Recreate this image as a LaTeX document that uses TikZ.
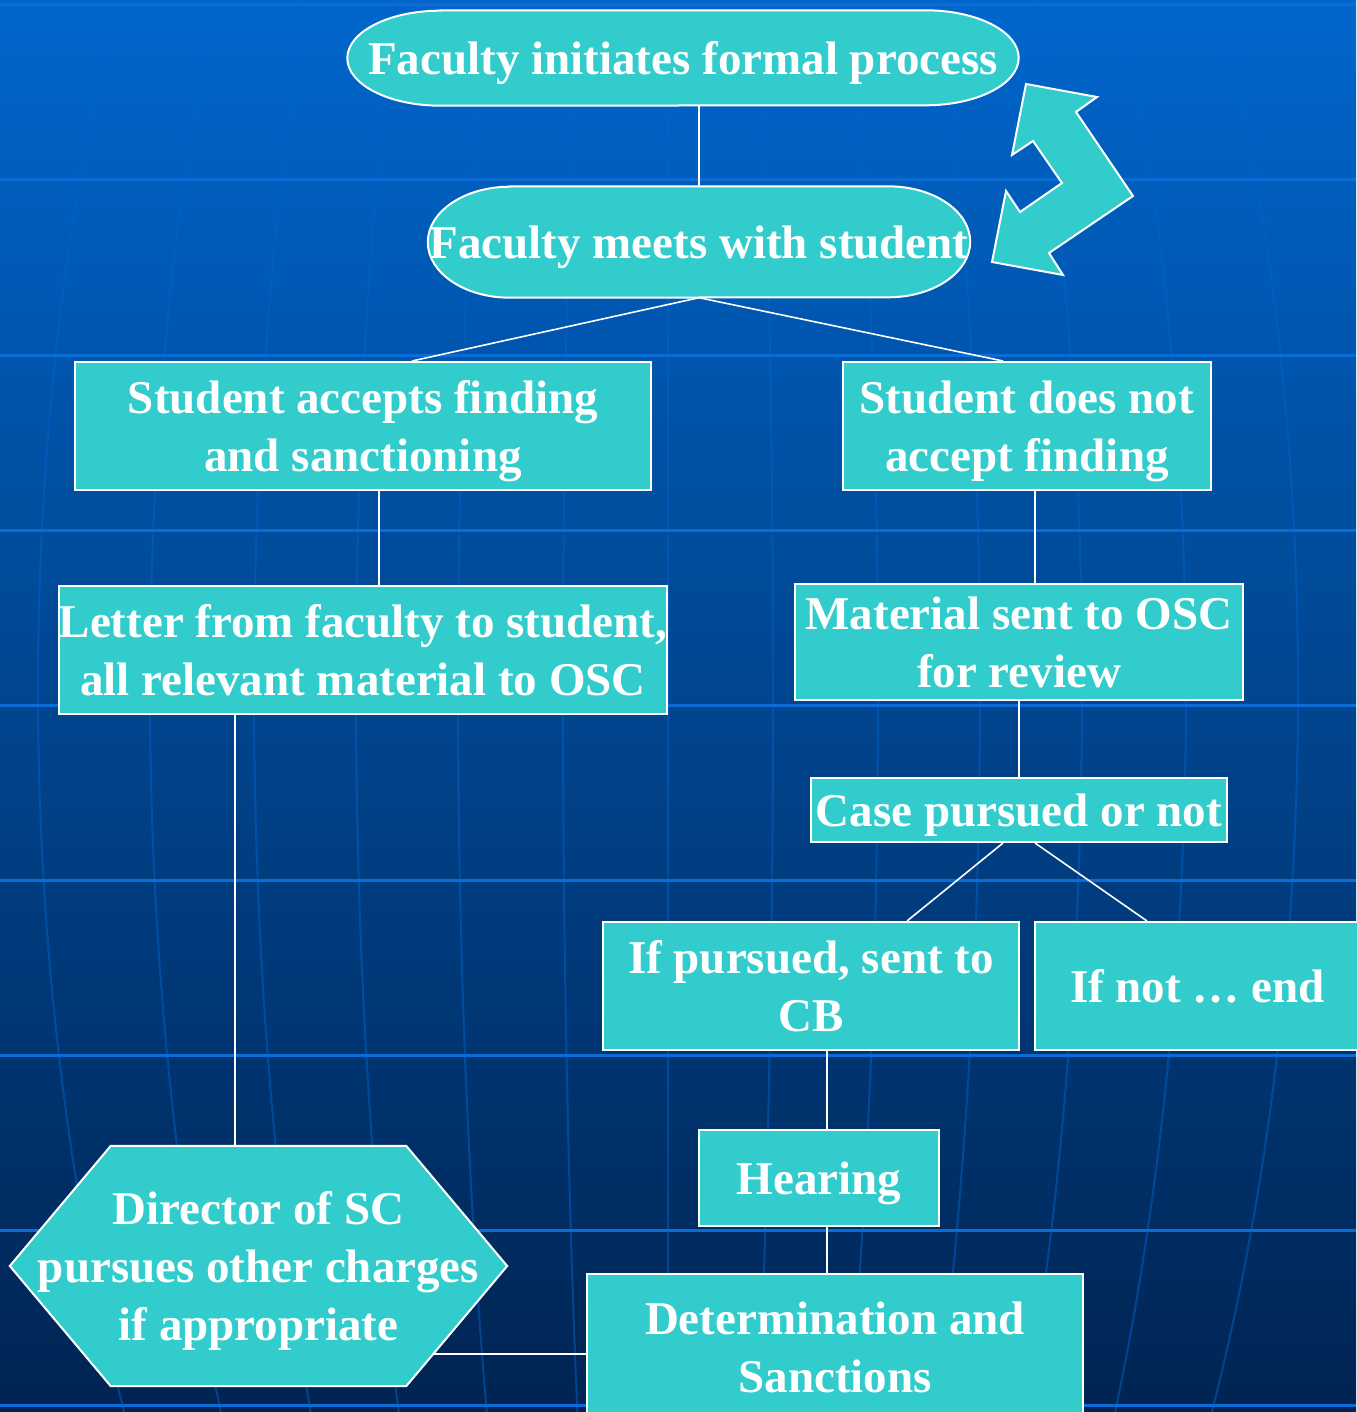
\documentclass[tikz,border=0pt]{standalone}
\usepackage{fontspec}
\setmainfont{Liberation Serif}
\definecolor{tealbox}{HTML}{33CCCC}
\definecolor{bgtop}{HTML}{0066CC}
\definecolor{bgmid}{HTML}{004A96}
\definecolor{bgbot}{HTML}{002452}
\definecolor{gridh}{HTML}{0A6CD4}
\definecolor{gridv}{HTML}{0062CC}
\newcommand\ctext[1]{\raisebox{-5pt}[\height][\depth]{\hbox to 0pt{\hss\begin{tabular}{@{}c@{}}#1\end{tabular}\hss}}}
\pgfdeclarelayer{bgl}
\pgfdeclarelayer{shp}
\pgfsetlayers{bgl,shp,main}
\begin{document}
\begin{tikzpicture}[x=1pt,y=-1pt,
  txtfont/.style={text=white, font=\fontsize{47}{58}\selectfont\bfseries},
  box/.style={draw=white, line width=2pt, fill=tealbox, inner sep=0pt, txtfont},
  plain/.style={inner sep=0pt, txtfont},
  shapeline/.style={draw=white, line width=2pt, fill=tealbox},
  conn/.style={draw=white, line width=1.6pt},
  hline/.style={gridh, line width=3pt},
  vline/.style={gridv, line width=2pt, opacity=0.5}]
\useasboundingbox (0,0) rectangle (1356,1412);
\begin{pgfonlayer}{bgl}
\shade[top color=bgtop, middle color=bgmid, bottom color=bgbot] (0,0) rectangle (1356,1412);
\foreach \a in {-630,-518,-414,-312,-210,-105,0,105,210,312,414,518,630}
  \draw[vline] plot[domain=0:1412, samples=40, smooth, variable=\t] ({668+(\a)*sqrt(1-((\t-690)/1430)^2)}, \t);
\foreach \yy in {5,180,355,530,705,880,1055,1230,1405}
  \draw[hline] (0,\yy) -- (1356,\yy);
\end{pgfonlayer}

% nodes
\node[plain, minimum width=671, minimum height=95] (n1) at (683,58) {\ctext{Faculty initiates formal process}};
\node[plain, minimum width=542, minimum height=111] (n2) at (699,242) {\ctext{Faculty meets with student}};
\node[box, minimum width=576, minimum height=128] (n3) at (363,426) {\ctext{Student accepts finding\\and sanctioning}};
\node[box, minimum width=368, minimum height=128] (n4) at (1027,426) {\ctext{Student does not\\accept finding}};
\node[box, minimum width=608, minimum height=128] (n5) at (363,650) {\ctext{Letter from faculty to student,\\all relevant material to OSC}};
\node[box, minimum width=448, minimum height=112] (n6) at (1019,642) {\ctext{Material sent to OSC\\for review}};
\node[box, minimum width=416, minimum height=64] (n7) at (1019,810) {\ctext{Case pursued or not}};
\node[box, minimum width=416, minimum height=128] (n8) at (811,986) {\ctext{If pursued, sent to\\CB}};
\node[box, minimum width=325, minimum height=128] (n9) at (1197.5,986) {\ctext{If not … end}};
\node[box, minimum width=240, minimum height=96] (n10) at (819,1178) {\ctext{Hearing}};
\node[box, minimum width=496, minimum height=146] (n11) at (835,1347) {\ctext{Determination and\\Sanctions}};
\node[plain, minimum width=497, minimum height=240] (hex) at (258.5,1266) {\ctext{Director of SC\\pursues other charges\\if appropriate}};

\begin{pgfonlayer}{shp}
% terminator shapes with elliptical ends
\draw[shapeline] ([xshift=93]n1.north west) -- ([xshift=-93]n1.north east)
  arc[start angle=90, end angle=-90, x radius=93pt, y radius=47.5pt]
  -- ([xshift=93]n1.south west)
  arc[start angle=270, end angle=90, x radius=93pt, y radius=47.5pt] -- cycle;
\draw[shapeline] ([xshift=82]n2.north west) -- ([xshift=-82]n2.north east)
  arc[start angle=90, end angle=-90, x radius=82pt, y radius=55.5pt]
  -- ([xshift=82]n2.south west)
  arc[start angle=270, end angle=90, x radius=82pt, y radius=55.5pt] -- cycle;
% hexagon
\draw[shapeline] (hex.west) -- ([xshift=101]hex.north west) -- ([xshift=-101]hex.north east) -- (hex.east) -- ([xshift=-101]hex.south east) -- ([xshift=101]hex.south west) -- cycle;
% cycle arrow
\draw[shapeline, line join=miter] (1026,84) -- (1097,97) -- (1076,112) -- (1133,196) -- (1049,253) -- (1063,275) -- (992,262) -- (1006,191) -- (1020,212) -- (1062,183) -- (1033,141) -- (1012,155) -- cycle;
\end{pgfonlayer}

% connectors
\coordinate (hx) at (235,0);
\coordinate (hexr) at (433,1354);
\draw[conn] (n2.north) -- (n2.north |- n1.south);
\draw[conn] (n2.south) -- ([xshift=49]n3.north);
\draw[conn] (n2.south) -- ([xshift=-24]n4.north);
\draw[conn] ([xshift=16]n3.south) -- ([xshift=16]n5.north);
\draw[conn] ([xshift=8]n4.south) -- ([xshift=8]n4.south |- n6.north);
\draw[conn] (n6.south) -- (n7.north);
\draw[conn] ([xshift=-16]n7.south) -- ([xshift=96]n8.north);
\draw[conn] ([xshift=16]n7.south) -- ([xshift=-50.5]n9.north);
\draw[conn] ([xshift=16]n8.south) -- ([xshift=16]n8.south |- n10.north);
\draw[conn] ([xshift=8]n10.south) -- ([xshift=8]n10.south |- n11.north);
\draw[conn] (n5.south -| hx) -- (hex.north -| hx);
\draw[conn] (hexr) -- (hexr -| n11.west);
\end{tikzpicture}
\end{document}
